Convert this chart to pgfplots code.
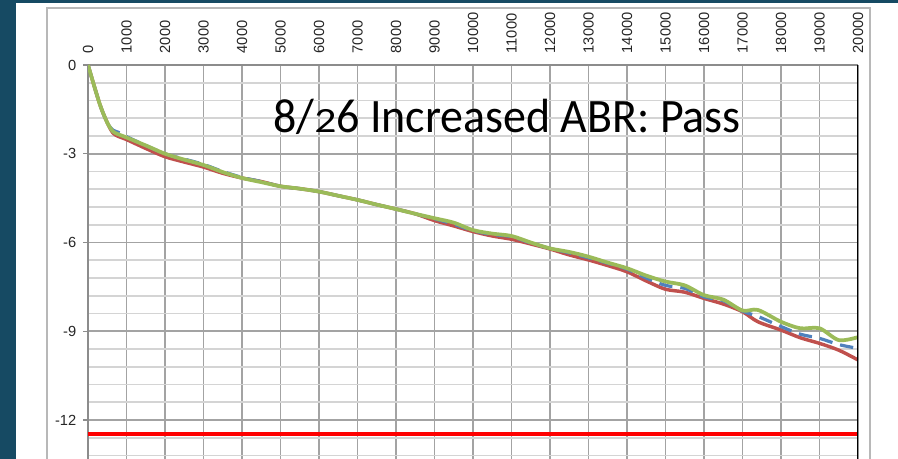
\documentclass[border=0pt]{standalone}
\usepackage{pgfplots}
\pgfplotsset{compat=1.18}
\usepackage{fontspec}
\setmainfont{Liberation Sans}
\newfontfamily\calibri{Carlito}
\definecolor{bgteal}{HTML}{164A63}
\definecolor{xlblue}{HTML}{4F81BD}
\definecolor{xlred}{HTML}{C0504D}
\definecolor{xlgreen}{HTML}{9BBB59}
\begin{document}
\begin{tikzpicture}
\useasboundingbox (0,0) rectangle ({898*0.75pt},{-459*0.75pt});
\fill[bgteal] (0,0) rectangle ({898*0.75pt},{-459*0.75pt});
\fill[white] ({16*0.75pt},{-3*0.75pt}) rectangle ({898*0.75pt},{-462*0.75pt});
\draw[black!28, line width=0.9pt] ({47*0.75pt},{-470*0.75pt}) |- ({870*0.75pt},{-8*0.75pt}) -- ({870*0.75pt},{-470*0.75pt});
\begin{axis}[
  at={({88*0.75pt},{-65*0.75pt})}, anchor=north west,
  scale only axis, width={770*0.75pt}, height={396.4*0.75pt},
  xmin=0, xmax=20000, ymin=-13.4, ymax=0,
  axis x line*=top, axis y line*=left,
  axis line style={black!45, line width=1pt},
  xtick={0,1000,...,20000},
  xticklabels={0,1000,2000,3000,4000,5000,6000,7000,8000,9000,10000,11000,12000,13000,14000,15000,16000,17000,18000,19000,20000},
  ytick={0,-3,-6,-9,-12},
  yticklabels={0,-3,-6,-9,-12},
  minor ytick={-0.6,-1.2,-1.8,-2.4,-3.6,-4.2,-4.8,-5.4,-6.6,-7.2,-7.8,-8.4,-9.6,-10.2,-10.8,-11.4,-12.6,-13.2},
  grid=both,
  major grid style={color=black!36, line width=1.3pt},
  minor grid style={color=black!17, line width=1.3pt},
  xtick style={draw=none},
  ytick style={color=black!45, line width=1pt},
  minor tick length=0pt,
  major tick length=3.75pt,
  tick align=outside,
  ticklabel style={font=\fontsize{11}{13}\selectfont, text=black!85},
  xticklabel style={rotate=90, anchor=west},
  xticklabel shift=1.5pt,
  yticklabel shift=1.5pt,
  clip=true,
]
\addplot[xlred, line width=2.6pt, smooth] coordinates {
(0,0) (300,-1.3) (500,-1.95) (650,-2.3) (800,-2.42) (1000,-2.52) (1500,-2.82) (2000,-3.1) (2500,-3.28) (3000,-3.45) (3500,-3.66) (4000,-3.82) (4500,-3.94) (5000,-4.1) (5500,-4.18) (6000,-4.28) (6500,-4.42) (7000,-4.56) (7500,-4.72) (8000,-4.87) (8500,-5.03) (9000,-5.26) (9500,-5.44) (10000,-5.63) (10500,-5.78) (11000,-5.89) (11500,-6.05) (12000,-6.22) (12500,-6.42) (13000,-6.59) (13500,-6.78) (14000,-6.99) (14500,-7.3) (15000,-7.58) (15500,-7.68) (16000,-7.89) (16500,-8.08) (17000,-8.34) (17400,-8.68) (18000,-8.96) (18500,-9.22) (19000,-9.41) (19500,-9.64) (20000,-9.97)};
\addplot[xlblue, line width=2.4pt, smooth, dash pattern=on 10pt off 6pt] coordinates {
(0,0) (300,-1.3) (500,-1.95) (650,-2.2) (800,-2.28) (1000,-2.42) (1500,-2.72) (2000,-3.0) (2500,-3.18) (3000,-3.36) (3500,-3.6) (4000,-3.8) (4500,-3.94) (5000,-4.1) (5500,-4.18) (6000,-4.28) (6500,-4.42) (7000,-4.56) (7500,-4.72) (8000,-4.87) (8500,-5.03) (9000,-5.2) (9500,-5.38) (10000,-5.6) (10500,-5.73) (11000,-5.8) (11500,-6.02) (12000,-6.2) (12500,-6.35) (13000,-6.52) (13500,-6.7) (14000,-6.9) (14500,-7.2) (15000,-7.45) (15500,-7.55) (16000,-7.84) (16500,-7.97) (17000,-8.32) (17400,-8.5) (18000,-8.84) (18500,-9.1) (19000,-9.24) (19500,-9.45) (20000,-9.58)};
\addplot[xlgreen, line width=2.8pt, smooth] coordinates {
(0,0) (300,-1.3) (500,-1.95) (650,-2.25) (800,-2.35) (1000,-2.45) (1500,-2.72) (2000,-3.0) (2500,-3.2) (3000,-3.38) (3500,-3.62) (4000,-3.82) (4500,-3.96) (5000,-4.1) (5500,-4.18) (6000,-4.28) (6500,-4.42) (7000,-4.56) (7500,-4.72) (8000,-4.87) (8500,-5.03) (9000,-5.18) (9500,-5.33) (10000,-5.58) (10500,-5.7) (11000,-5.78) (11500,-6.0) (12000,-6.2) (12500,-6.32) (13000,-6.48) (13500,-6.68) (14000,-6.87) (14500,-7.12) (15000,-7.32) (15500,-7.45) (16000,-7.78) (16500,-7.93) (17000,-8.3) (17400,-8.28) (18000,-8.68) (18500,-8.9) (19000,-8.9) (19500,-9.3) (20000,-9.2)};
\addplot[red, line width=3pt] coordinates {(0,-12.47) (20000,-12.47)};
\draw[black, line width=2.2pt] (axis cs:20000,0) -- (axis cs:20000,-13.4);
\end{axis}
\node[font=\calibri\fontsize{36}{40}\selectfont, anchor=base west, inner sep=0pt] at ({273*0.75pt},{-132.7*0.75pt}) {\scalebox{0.957}[1]{8/\scalebox{0.95}[0.74]{2}6 Increased ABR: Pass}};
\end{tikzpicture}
\end{document}
